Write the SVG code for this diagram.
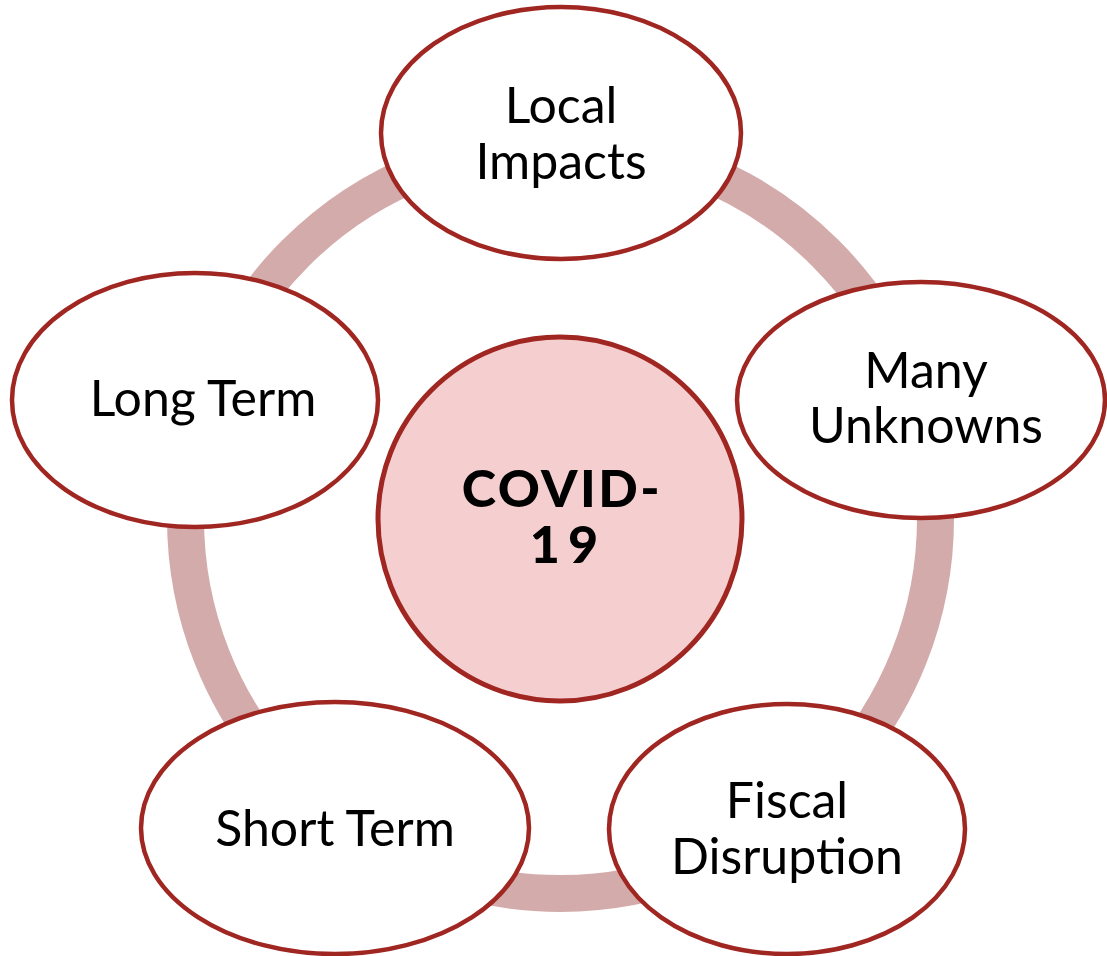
<svg xmlns="http://www.w3.org/2000/svg" width="1107" height="956" viewBox="0 0 1107 956">
<style>
.node{fill:#ffffff;stroke:#a02622;stroke-width:4.5}
.center{fill:#f5cfcf;stroke:#a02622;stroke-width:5}
.lbl{font-family:Lato,"Open Sans","Liberation Sans",sans-serif;font-size:50px;fill:#000;text-anchor:middle}
.bold{font-weight:900;font-size:52px;letter-spacing:2.5px}
.ring{fill:none;stroke:#d4abab;stroke-width:37}
</style>
<rect width="1107" height="956" fill="#ffffff"/>
<g id="connectors">
<circle class="ring" cx="560.5" cy="518.5" r="375"/>
</g>
<g id="center">
<circle class="center" cx="560" cy="519" r="182"/>
<text class="lbl bold" x="562" y="507">COVID-</text>
<text class="lbl bold" x="568" y="563" style="letter-spacing:8px">19</text>
</g>
<g id="local-impacts">
<ellipse class="node" cx="561" cy="133" rx="180" ry="126"/>
<text class="lbl" x="561" y="123">Local</text>
<text class="lbl" x="561" y="178.5">Impacts</text>
</g>
<g id="many-unknowns">
<ellipse class="node" cx="921" cy="400" rx="184" ry="118"/>
<text class="lbl" x="926" y="388">Many</text>
<text class="lbl" x="926" y="443">Unknowns</text>
</g>
<g id="fiscal-disruption">
<ellipse class="node" cx="787" cy="829" rx="178" ry="125"/>
<text class="lbl" x="787" y="818">Fiscal</text>
<text class="lbl" x="787" y="874">Disruption</text>
</g>
<g id="short-term">
<ellipse class="node" cx="335" cy="828" rx="194" ry="126"/>
<text class="lbl" x="335" y="846">Short Term</text>
</g>
<g id="long-term">
<ellipse class="node" cx="195" cy="400" rx="183" ry="127"/>
<text class="lbl" x="203" y="416">Long Term</text>
</g>
</svg>
